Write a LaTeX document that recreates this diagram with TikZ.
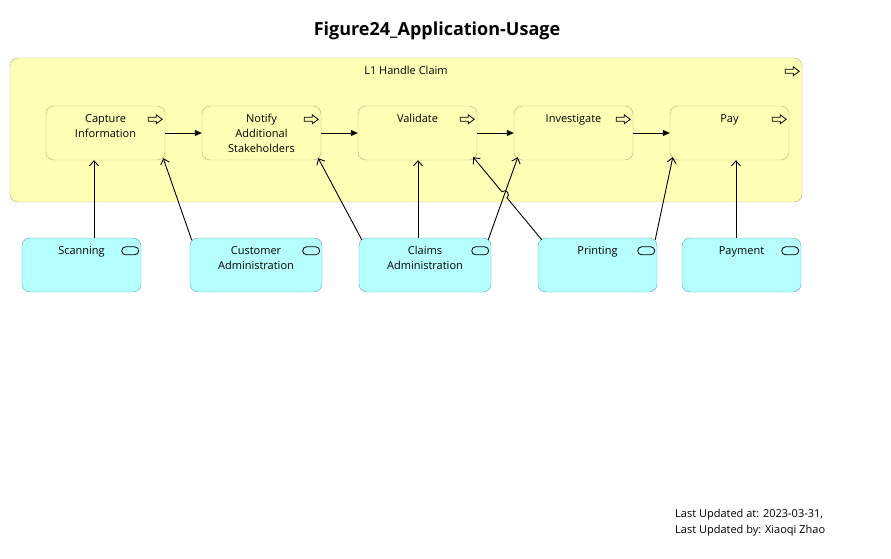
\documentclass[tikz,border=0pt]{standalone}
\usepackage{fontspec}
\setmainfont{Open Sans}
\usepackage{tikz}
\usetikzlibrary{calc, arrows.meta, positioning}
\definecolor{procfill}{RGB}{255, 255, 181}
\definecolor{procline}{RGB}{176, 176, 120}
\definecolor{appfill}{RGB}{181, 255, 255}
\definecolor{appline}{RGB}{88, 168, 168}
\newcommand{\boxfont}{\fontsize{11}{15}\selectfont}
\newcommand{\headfont}{\fontsize{18}{21}\selectfont\bfseries}
% process arrow at the top right of a box
\newcommand{\procicon}[1]{\draw [line width=0.8] ([xshift=-17, yshift=-11.5]#1.north east) 
    -- ++(8,0) -- ++(0,-2.5) -- ++(6,4.5) -- ++(-6,4.5) -- ++(0,-2.5) -- ++(-8,0) -- cycle;}
% service pill at the top right of a box
\newcommand{\appicon}[1]{\draw [line width=0.8, rounded corners=4] 
    ([xshift=-19.5, yshift=-9]#1.north east) rectangle ++(17,8);}
\tikzset{
    groupnode/.style = {draw=procline, fill=procfill, rectangle, rounded corners=8, inner sep=0, 
      minimum width=792, minimum height=144},
    procnode/.style = {draw=procline, fill=procfill, rectangle, rounded corners=8, inner sep=0, 
      node distance=0em, minimum width=119, minimum height=54},
    appnode/.style = {draw=appline, fill=appfill, rectangle, rounded corners=8, inner sep=0, 
      node distance=0em, minimum width=119, minimum height=54},
    textnode/.style = {draw=none, fill=none, rectangle, inner sep=0, align=center, font=\boxfont},
    trigger/.style = {black, line width=0.9, -{Triangle[length=7, width=6]}},
    serve/.style = {black, line width=0.9, -{Straight Barb[length=5, width=9]}}
}

\begin{document}
\begin{tikzpicture}[x=1pt, y=-1pt]
    \useasboundingbox (0,0) rectangle (891,559);

    \node [name=title, textnode, font=\headfont] at (437,31) {Figure24\_Application-Usage};

    \node [name=handle, groupnode] at (406,130) {};
    \node [name=handlet, textnode, anchor=north] at ([yshift=-8.5]handle.north) {L1 Handle Claim};
    \procicon{handle}

    \node [name=capture, procnode] at (105.5,133) {};
    \node [name=notify, procnode, right of = capture, xshift=156] {};
    \node [name=validate, procnode, right of = notify, xshift=156] {};
    \node [name=investigate, procnode, right of = validate, xshift=156] {};
    \node [name=pay, procnode, right of = investigate, xshift=156] {};

    \node [name=capturet, textnode, anchor=north] at ([yshift=-8.5]capture.north) {Capture\\Information};
    \node [name=notifyt, textnode, anchor=north] at ([yshift=-8.5]notify.north) {Notify\\Additional\\Stakeholders};
    \node [name=validatet, textnode, anchor=north] at ([yshift=-8.5]validate.north) {Validate};
    \node [name=investigatet, textnode, anchor=north] at ([yshift=-8.5]investigate.north) {Investigate};
    \node [name=payt, textnode, anchor=north] at ([yshift=-8.5]pay.north) {Pay};
    \foreach \p in {capture, notify, validate, investigate, pay} {\procicon{\p}}

    \node [name=scanning, appnode, below of = capture, xshift=-24, yshift=-132] {};
    \node [name=custadmin, appnode, minimum width=132, below of = capture, xshift=150.5, yshift=-132] {};
    \node [name=claimsadmin, appnode, minimum width=132, below of = validate, xshift=7.5, yshift=-132] {};
    \node [name=printing, appnode, below of = investigate, xshift=24, yshift=-132] {};
    \node [name=payment, appnode, below of = pay, xshift=12, yshift=-132] {};

    \node [name=scanningt, textnode, anchor=north] at ([yshift=-8.5]scanning.north) {Scanning};
    \node [name=custadmint, textnode, anchor=north] at ([yshift=-8.5]custadmin.north) {Customer\\Administration};
    \node [name=claimsadmint, textnode, anchor=north] at ([yshift=-8.5]claimsadmin.north) {Claims\\Administration};
    \node [name=printingt, textnode, anchor=north] at ([yshift=-8.5]printing.north) {Printing};
    \node [name=paymentt, textnode, anchor=north] at ([yshift=-8.5]payment.north) {Payment};
    \foreach \a in {scanning, custadmin, claimsadmin, printing, payment} {\appicon{\a}}

    \draw [trigger] (capture) -- (notify);
    \draw [trigger] (notify) -- (validate);
    \draw [trigger] (validate) -- (investigate);
    \draw [trigger] (investigate) -- (pay);

    \draw [serve] ([xshift=12.5]scanning.north) -- ([xshift=-11.5]capture.south);
    \draw [serve] ([xshift=2, yshift=-2.5]custadmin.north west) -- ([xshift=-2, yshift=2]capture.south east);
    \draw [serve] ([xshift=3, yshift=-2]claimsadmin.north west) -- ([xshift=-3, yshift=2]notify.south east);
    \draw [serve] ([xshift=-7]claimsadmin.north) -- ([xshift=0.5]validate.south);
    \draw [serve] ([xshift=-3, yshift=-2]claimsadmin.north east) -- ([xshift=4, yshift=3]investigate.south west);
    \draw [serve] ([xshift=-2, yshift=-2]printing.north east) -- ([xshift=3, yshift=3]pay.south west);
    \draw [serve] ([xshift=-5.5]payment.north) -- ([xshift=6.5]pay.south);

    % printing to validate, with a hop over the claims line
    \coordinate (pv1) at ([xshift=4, yshift=-2]printing.north west);
    \coordinate (pv2) at ([xshift=-4, yshift=3]validate.south east);
    \coordinate (hop1) at ($(pv1)!0.508!(pv2)$);
    \coordinate (hop2) at ($(pv1)!0.582!(pv2)$);
    \draw [serve] (pv1) -- (hop1) .. controls ($(hop1)!5.3pt!-90:(pv2)$) and ($(hop2)!5.3pt!90:(pv1)$) .. (hop2) -- (pv2);

    \node [name=footer1, textnode, anchor=west] at (675,515) {Last Updated at: 2023-03-31,};
    \node [name=footer2, textnode, anchor=west] at (675,531) {Last Updated by: Xiaoqi Zhao};
\end{tikzpicture}
\end{document}
